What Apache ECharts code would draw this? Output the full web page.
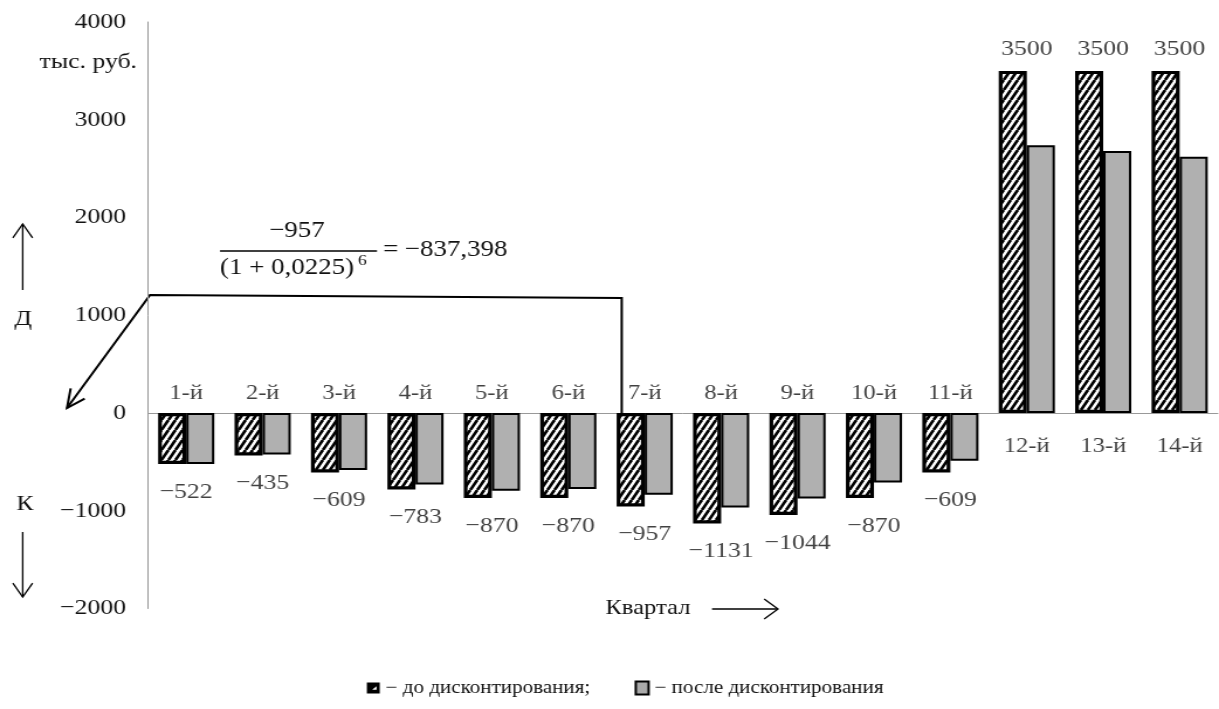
<!DOCTYPE html>
<html>
<head>
<meta charset="utf-8">
<script src="https://cdn.jsdelivr.net/npm/echarts@6/dist/echarts.min.js"></script>
<style>
  html, body { margin: 0; padding: 0; background: #fff; overflow: hidden; }
  /* the figure is laid out narrower and widened, like the wide-set original figure */
  #chart { width: 1042px; height: 709px; transform: scaleX(1.16987); transform-origin: 0 0; }
</style>
</head>
<body>
<div id="chart"></div>
<script>
// Квартальные денежные потоки, тыс. руб.
const quarters = ['1-й', '2-й', '3-й', '4-й', '5-й', '6-й', '7-й', '8-й', '9-й', '10-й', '11-й', '12-й', '13-й', '14-й'];
const beforeDiscount = [-522, -435, -609, -783, -870, -870, -957, -1131, -1044, -870, -609, 3500, 3500, 3500];
const afterDiscount = [-522, -425.4, -582.5, -732.4, -795.9, -778.4, -837.4, -967.8, -873.7, -712.1, -487.5, 2740, 2680, 2621];
const yTicks = { min: -2000, max: 4000, interval: 1000 };
const seriesNames = ['до дисконтирования', 'после дисконтирования'];

const K = 1219 / 1042;          // horizontal widening of the container
const sx = x => x / K;          // page x -> chart x
const FONT = '"Liberation Serif", "Times New Roman", serif';
const INK = '#111';

// diagonal hatch fill for the undiscounted bars
function hatchPattern() {
  const w = 6, h = 10;
  const c = document.createElement('canvas');
  c.width = w; c.height = h;
  const g = c.getContext('2d');
  g.fillStyle = '#fff';
  g.fillRect(0, 0, w, h);
  g.strokeStyle = '#000';
  g.lineWidth = 2.7;
  g.beginPath();
  g.moveTo(-w, h); g.lineTo(0, 0);
  g.moveTo(0, h); g.lineTo(w, 0);
  g.moveTo(w, h); g.lineTo(2 * w, 0);
  g.stroke();
  return c;
}

const minus = v => String(v).replace('-', '\u2212');

// value captions under/over the undiscounted bars
const valueLabels = beforeDiscount.map(v => ({
  value: v,
  label: v < 0
    ? { position: 'bottom', distance: 17 }
    : { position: 'top', distance: 11 }
}));
// quarter captions next to the zero line
const quarterLabels = quarters.map((q, i) => ({
  value: 0,
  name: q,
  label: beforeDiscount[i] < 0
    ? { position: 'top', distance: 9 }
    : { position: 'bottom', distance: 23 }
}));

const chart = echarts.init(document.getElementById('chart'), null, { renderer: 'canvas' });

chart.setOption({
  animation: false,
  backgroundColor: '#fff',
  grid: { left: sx(148), right: 1, top: 22, bottom: 100.5 },
  legend: {
    bottom: 7,
    left: sx(361),
    itemWidth: 11,
    itemHeight: 13,
    itemGap: 38,
    textStyle: { fontFamily: FONT, fontSize: 18, color: INK },
    formatter: n => n === seriesNames[0] ? '\u2212 ' + n + ';' : '\u2212 ' + n,
    data: [
      {
        name: seriesNames[0],
        icon: 'path://M0,0L12,0L12,12L0,12Z M5,8L9,8L9,4Z',
        itemStyle: { color: '#000', borderWidth: 0 }
      },
      {
        name: seriesNames[1],
        icon: 'rect',
        itemStyle: { color: '#aaa', borderColor: '#000', borderWidth: 2 }
      }
    ]
  },
  xAxis: {
    type: 'category',
    data: quarters,
    axisLine: { onZero: true, lineStyle: { color: '#999', width: 1 } },
    axisTick: { show: false },
    axisLabel: { show: false },
    splitLine: { show: false }
  },
  yAxis: {
    type: 'value',
    min: yTicks.min,
    max: yTicks.max,
    interval: yTicks.interval,
    axisLine: { show: true, lineStyle: { color: '#999', width: 1 } },
    axisTick: { show: false },
    splitLine: { show: false },
    axisLabel: {
      margin: sx(22),
      fontFamily: FONT,
      fontSize: 22,
      color: INK,
      formatter: v => minus(v)
    }
  },
  series: [
    {
      name: seriesNames[0],
      type: 'bar',
      data: beforeDiscount,
      barWidth: 24,
      barGap: '0%',
      z: 3,
      itemStyle: {
        color: { image: hatchPattern(), repeat: 'repeat' },
        borderColor: '#000',
        borderWidth: 3.2
      }
    },
    {
      name: seriesNames[1],
      type: 'bar',
      data: afterDiscount,
      barWidth: 24,
      barGap: '0%',
      z: 2,
      itemStyle: { color: '#b0b0b0', borderColor: '#000', borderWidth: 2 }
    },
    {
      name: 'values',
      type: 'scatter',
      data: valueLabels,
      symbolSize: 0,
      z: 5,
      silent: true,
      label: {
        show: true,
        fontFamily: FONT,
        fontSize: 22,
        color: INK,
        formatter: p => minus(p.value)
      }
    },
    {
      name: 'quarters',
      type: 'scatter',
      data: quarterLabels,
      symbolSize: 0,
      z: 5,
      silent: true,
      label: {
        show: true,
        fontFamily: FONT,
        fontSize: 21,
        color: INK,
        formatter: p => p.name
      }
    }
  ]
});

// annotations: formula for the 7th quarter and direction hints
const px = (i, v) => chart.convertToPixel({ gridIndex: 0 }, [i, v]);
const gridLeft = sx(148);
const zeroY = px(0, 0)[1];
const q7x = px(6, 0)[0] - sx(23);
const bracket = [
  [q7x, zeroY],
  [q7x, px(6, 1176)[1]],
  [gridLeft + sx(2), px(0, 1207)[1]],
  [gridLeft - sx(81), px(0, 51)[1]]
];

// open arrow head, built in page space so the widening keeps its shape
function arrowHead(from, to, len, spread) {
  const f = [from[0] * K, from[1]], t = [to[0] * K, to[1]];
  const a = Math.atan2(t[1] - f[1], t[0] - f[0]);
  const p1 = [(t[0] - len * Math.cos(a - spread)) / K, t[1] - len * Math.sin(a - spread)];
  const p2 = [(t[0] - len * Math.cos(a + spread)) / K, t[1] - len * Math.sin(a + spread)];
  return [p1, to, p2];
}

const bold = { stroke: '#000', lineWidth: 2, fill: null };
const thin = { stroke: '#000', lineWidth: 1.3, fill: null };
const txt = (x, y, text, size, align) => ({
  type: 'text', x: sx(x), y, silent: true,
  style: { text, fontFamily: FONT, fontSize: size, fill: INK, align: align || 'center', verticalAlign: 'middle' }
});
const arrow = (x1, y1, x2, y2, style, len) => [
  { type: 'polyline', silent: true, shape: { points: [[sx(x1), y1], [sx(x2), y2]] }, style },
  { type: 'polyline', silent: true, shape: { points: arrowHead([sx(x1), y1], [sx(x2), y2], len, 0.62) }, style }
];

chart.setOption({
  graphic: [
    // bracket from the 7th quarter to the discounting arrow
    { type: 'polyline', silent: true, shape: { points: bracket }, style: bold },
    { type: 'polyline', silent: true, shape: { points: arrowHead(bracket[2], bracket[3], 20, 0.45) }, style: bold },
    // formula
    txt(297, 231, '\u2212957', 23),
    { type: 'line', silent: true, shape: { x1: sx(220), y1: 251, x2: sx(377), y2: 251 }, style: { stroke: '#000', lineWidth: 1.3 } },
    txt(287, 268, '(1 + 0,0225)', 23),
    txt(358, 261, '6', 15, 'left'),
    txt(383, 250, '= \u2212837,398', 23, 'left'),
    // units
    txt(137, 62, 'тыс. руб.', 22, 'right'),
    // income / cost direction hints
    txt(23, 319, 'Д', 22),
    ...arrow(22.7, 290, 22.7, 224, thin, 17),
    txt(25, 504, 'К', 22),
    ...arrow(22.7, 532, 22.7, 597, thin, 17),
    // quarter axis caption
    txt(648, 608, 'Квартал', 21),
    ...arrow(712, 609, 778, 609, thin, 17)
  ]
});
</script>
</body>
</html>
